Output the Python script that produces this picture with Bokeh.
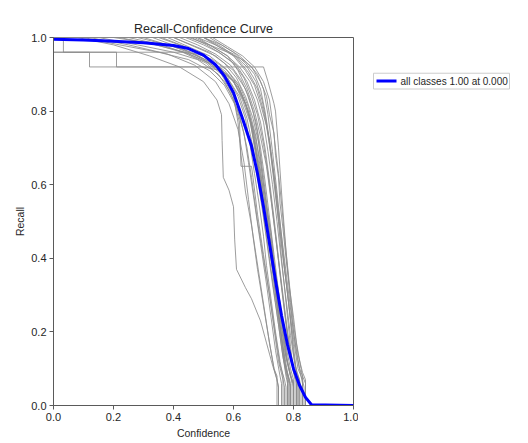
from bokeh.plotting import figure
from bokeh.layouts import row
from bokeh.models import Range1d, FixedTicker
from bokeh.core.properties import value
from bokeh.embed import file_html
from bokeh.resources import INLINE

# ---- data ----
mean_conf = [0, 0.1, 0.2, 0.3, 0.4, 0.45, 0.5, 0.54, 0.57, 0.60, 0.63, 0.66, 0.68, 0.70, 0.72,
             0.74, 0.76, 0.78, 0.80, 0.82, 0.84, 0.86, 1.0]
mean_recall = [0.995, 0.993, 0.99, 0.986, 0.978, 0.97, 0.952, 0.926, 0.895, 0.85, 0.78, 0.705,
               0.63, 0.54, 0.44, 0.34, 0.245, 0.165, 0.10, 0.055, 0.022, 0.002, 0.0]

cls01_conf = [0, 0.08, 0.2, 0.32, 0.42, 0.5, 0.545, 0.56, 0.562, 0.566, 0.585, 0.60, 0.604, 0.61, 0.64, 0.66, 0.69, 0.71, 0.73, 0.745, 0.75, 0.75, 1]
cls01_recall = [1, 1, 0.98, 0.95, 0.92, 0.88, 0.83, 0.79, 0.72, 0.62, 0.585, 0.54, 0.45, 0.37, 0.32, 0.29, 0.23, 0.17, 0.11, 0.07, 0.05, 0, 0]
cls02_conf = [0, 0, 0.12, 0.12, 0.70, 0.715, 0.735, 0.74, 0.75, 0.76, 0.775, 0.79, 0.80, 0.82, 0.84, 0.84, 1]
cls02_recall = [1, 0.96, 0.96, 0.92, 0.92, 0.88, 0.82, 0.80, 0.70, 0.58, 0.42, 0.28, 0.20, 0.10, 0.06, 0, 0]
cls03_conf = [0, 0.033, 0.033, 0.21, 0.21, 0.50, 0.56, 0.60, 0.63, 0.655, 0.67, 0.69, 0.70, 0.72, 0.74, 0.76, 0.775, 0.78, 0.78, 1]
cls03_recall = [1, 1, 0.96, 0.96, 0.92, 0.92, 0.91, 0.88, 0.84, 0.78, 0.70, 0.60, 0.52, 0.40, 0.28, 0.16, 0.08, 0.06, 0, 0]
cls04_conf = [0, 0.43, 0.48, 0.53, 0.58, 0.62, 0.65, 0.675, 0.69, 0.71, 0.73, 0.75, 0.77, 0.79, 0.80, 0.80, 1]
cls04_recall = [0.96, 0.96, 0.955, 0.94, 0.91, 0.87, 0.81, 0.73, 0.64, 0.52, 0.40, 0.27, 0.15, 0.08, 0.06, 0, 0]
cls05_conf = [0, 0.10, 0.22, 0.35, 0.45, 0.52, 0.57, 0.61, 0.635, 0.65, 0.67, 0.69, 0.71, 0.725, 0.74, 0.755, 0.76, 0.76, 1]
cls05_recall = [1, 1, 0.98, 0.96, 0.94, 0.91, 0.87, 0.81, 0.74, 0.66, 0.55, 0.44, 0.33, 0.24, 0.15, 0.08, 0.06, 0, 0]
cls06_conf = [0, 0.15, 0.28, 0.40, 0.48, 0.55, 0.59, 0.62, 0.645, 0.66, 0.68, 0.70, 0.72, 0.735, 0.75, 0.765, 0.77, 0.77, 1]
cls06_recall = [1, 1, 0.98, 0.96, 0.94, 0.90, 0.85, 0.79, 0.70, 0.62, 0.50, 0.40, 0.30, 0.21, 0.12, 0.07, 0.05, 0, 0]
cls07_conf = [0, 0.20, 0.32, 0.43, 0.51, 0.57, 0.60, 0.62, 0.625, 0.66, 0.665, 0.68, 0.70, 0.72, 0.74, 0.755, 0.77, 0.775, 0.775, 1]
cls07_recall = [1, 1, 0.985, 0.96, 0.93, 0.88, 0.83, 0.77, 0.65, 0.65, 0.62, 0.52, 0.41, 0.30, 0.19, 0.11, 0.07, 0.05, 0, 0]
cls08_conf = [0, 0.28, 0.38, 0.46, 0.53, 0.58, 0.62, 0.645, 0.665, 0.68, 0.70, 0.715, 0.73, 0.75, 0.765, 0.78, 0.785, 0.785, 1]
cls08_recall = [1, 1, 0.98, 0.96, 0.93, 0.89, 0.84, 0.78, 0.70, 0.62, 0.51, 0.42, 0.33, 0.22, 0.13, 0.08, 0.06, 0, 0]
cls09_conf = [0, 0.35, 0.42, 0.49, 0.55, 0.60, 0.63, 0.655, 0.675, 0.69, 0.71, 0.725, 0.74, 0.755, 0.77, 0.785, 0.79, 0.79, 1]
cls09_recall = [1, 1, 0.98, 0.955, 0.92, 0.88, 0.83, 0.77, 0.69, 0.61, 0.50, 0.40, 0.30, 0.21, 0.12, 0.07, 0.05, 0, 0]
cls10_conf = [0, 0.40, 0.46, 0.52, 0.57, 0.61, 0.64, 0.665, 0.685, 0.70, 0.715, 0.73, 0.745, 0.76, 0.775, 0.79, 0.795, 0.795, 1]
cls10_recall = [1, 1, 0.98, 0.96, 0.93, 0.89, 0.84, 0.78, 0.71, 0.62, 0.52, 0.42, 0.32, 0.22, 0.13, 0.08, 0.06, 0, 0]
cls11_conf = [0, 0.42, 0.48, 0.54, 0.59, 0.625, 0.65, 0.675, 0.69, 0.705, 0.72, 0.735, 0.75, 0.765, 0.78, 0.795, 0.80, 0.80, 1]
cls11_recall = [1, 1, 0.98, 0.955, 0.925, 0.885, 0.84, 0.77, 0.70, 0.61, 0.51, 0.41, 0.31, 0.21, 0.12, 0.07, 0.05, 0, 0]
cls12_conf = [0, 0.44, 0.50, 0.55, 0.60, 0.635, 0.66, 0.68, 0.70, 0.715, 0.73, 0.745, 0.76, 0.775, 0.79, 0.805, 0.81, 0.81, 1]
cls12_recall = [1, 1, 0.98, 0.96, 0.93, 0.89, 0.84, 0.79, 0.71, 0.63, 0.53, 0.43, 0.32, 0.22, 0.13, 0.08, 0.06, 0, 0]
cls13_conf = [0, 0.46, 0.51, 0.56, 0.61, 0.645, 0.67, 0.69, 0.705, 0.72, 0.735, 0.75, 0.765, 0.78, 0.795, 0.81, 0.815, 0.815, 1]
cls13_recall = [1, 1, 0.98, 0.955, 0.925, 0.88, 0.83, 0.77, 0.70, 0.61, 0.51, 0.40, 0.30, 0.20, 0.12, 0.07, 0.05, 0, 0]
cls14_conf = [0, 0.48, 0.53, 0.58, 0.62, 0.655, 0.68, 0.70, 0.715, 0.73, 0.745, 0.76, 0.775, 0.79, 0.805, 0.82, 0.825, 0.825, 1]
cls14_recall = [1, 1, 0.975, 0.95, 0.92, 0.88, 0.83, 0.77, 0.69, 0.60, 0.50, 0.39, 0.29, 0.19, 0.11, 0.07, 0.05, 0, 0]
cls15_conf = [0, 0.50, 0.55, 0.60, 0.64, 0.67, 0.69, 0.71, 0.725, 0.74, 0.755, 0.77, 0.785, 0.80, 0.815, 0.83, 0.835, 0.835, 1]
cls15_recall = [1, 1, 0.975, 0.95, 0.91, 0.87, 0.82, 0.76, 0.68, 0.59, 0.48, 0.37, 0.27, 0.18, 0.10, 0.07, 0.05, 0, 0]
cls16_conf = [0, 0.52, 0.56, 0.60, 0.64, 0.67, 0.69, 0.705, 0.72, 0.735, 0.75, 0.76, 0.775, 0.79, 0.80, 0.805, 0.805, 1]
cls16_recall = [1, 1, 0.98, 0.96, 0.93, 0.90, 0.86, 0.80, 0.72, 0.62, 0.50, 0.40, 0.28, 0.16, 0.09, 0.07, 0, 0]
cls17_conf = [0, 0.25, 0.36, 0.45, 0.52, 0.58, 0.62, 0.65, 0.67, 0.69, 0.71, 0.73, 0.745, 0.76, 0.775, 0.785, 0.785, 1]
cls17_recall = [1, 1, 0.98, 0.955, 0.93, 0.90, 0.86, 0.80, 0.73, 0.63, 0.52, 0.40, 0.29, 0.19, 0.10, 0.07, 0, 0]
cls18_conf = [0, 0.30, 0.40, 0.48, 0.55, 0.60, 0.64, 0.665, 0.68, 0.695, 0.715, 0.735, 0.75, 0.765, 0.78, 0.79, 0.79, 1]
cls18_recall = [1, 1, 0.975, 0.95, 0.92, 0.88, 0.82, 0.75, 0.66, 0.57, 0.46, 0.35, 0.25, 0.16, 0.09, 0.06, 0, 0]
cls19_conf = [0, 0.45, 0.52, 0.58, 0.63, 0.66, 0.68, 0.70, 0.715, 0.73, 0.745, 0.76, 0.775, 0.79, 0.80, 0.81, 0.82, 0.82, 1]
cls19_recall = [1, 1, 0.98, 0.96, 0.94, 0.92, 0.90, 0.86, 0.79, 0.69, 0.58, 0.46, 0.34, 0.23, 0.14, 0.09, 0.07, 0, 0]
cls20_conf = [0, 0.12, 0.25, 0.38, 0.47, 0.54, 0.585, 0.615, 0.635, 0.65, 0.665, 0.68, 0.70, 0.72, 0.735, 0.745, 0.745, 1]
cls20_recall = [1, 1, 0.98, 0.955, 0.925, 0.88, 0.82, 0.75, 0.66, 0.56, 0.46, 0.37, 0.27, 0.17, 0.10, 0.08, 0, 0]
cls21_conf = [0, 0.38, 0.45, 0.52, 0.575, 0.615, 0.645, 0.67, 0.69, 0.705, 0.72, 0.74, 0.76, 0.775, 0.79, 0.80, 0.80, 1]
cls21_recall = [1, 1, 0.975, 0.95, 0.915, 0.87, 0.81, 0.74, 0.66, 0.57, 0.47, 0.35, 0.24, 0.14, 0.08, 0.06, 0, 0]
cls22_conf = [0, 0.47, 0.53, 0.58, 0.615, 0.645, 0.67, 0.69, 0.71, 0.725, 0.74, 0.755, 0.77, 0.785, 0.80, 0.815, 0.815, 1]
cls22_recall = [1, 1, 0.975, 0.95, 0.91, 0.86, 0.80, 0.73, 0.65, 0.56, 0.46, 0.36, 0.26, 0.16, 0.09, 0.07, 0, 0]
cls23_conf = [0, 0.50, 0.56, 0.61, 0.65, 0.68, 0.70, 0.72, 0.735, 0.75, 0.765, 0.78, 0.795, 0.81, 0.825, 0.83, 0.83, 1]
cls23_recall = [1, 1, 0.975, 0.945, 0.905, 0.86, 0.80, 0.72, 0.63, 0.53, 0.43, 0.33, 0.23, 0.14, 0.08, 0.06, 0, 0]
cls24_conf = [0, 0.33, 0.43, 0.50, 0.56, 0.60, 0.615, 0.625, 0.64, 0.66, 0.675, 0.69, 0.705, 0.72, 0.735, 0.745, 0.75, 0.75, 1]
cls24_recall = [1, 1, 0.97, 0.94, 0.90, 0.84, 0.77, 0.68, 0.58, 0.49, 0.41, 0.33, 0.25, 0.17, 0.10, 0.07, 0.05, 0, 0]
cls25_conf = [0, 0.50, 0.56, 0.62, 0.66, 0.69, 0.71, 0.72, 0.735, 0.74, 0.75, 0.755, 0.765, 0.775, 0.785, 0.80, 0.81, 0.825, 0.83, 0.83, 1]
cls25_recall = [1, 1, 0.98, 0.95, 0.92, 0.88, 0.84, 0.79, 0.74, 0.68, 0.62, 0.55, 0.48, 0.40, 0.33, 0.24, 0.17, 0.10, 0.08, 0, 0]
cls26_conf = [0, 0.53, 0.58, 0.63, 0.67, 0.70, 0.72, 0.73, 0.74, 0.75, 0.76, 0.77, 0.78, 0.79, 0.80, 0.815, 0.83, 0.84, 0.84, 1]
cls26_recall = [1, 1, 0.975, 0.95, 0.92, 0.88, 0.83, 0.77, 0.70, 0.63, 0.55, 0.46, 0.38, 0.30, 0.22, 0.14, 0.09, 0.07, 0, 0]
cls27_conf = [0, 0.40, 0.47, 0.54, 0.60, 0.64, 0.665, 0.68, 0.69, 0.70, 0.712, 0.725, 0.735, 0.75, 0.76, 0.775, 0.79, 0.80, 0.80, 1]
cls27_recall = [1, 1, 0.975, 0.95, 0.91, 0.86, 0.80, 0.74, 0.67, 0.60, 0.53, 0.47, 0.39, 0.31, 0.24, 0.16, 0.10, 0.07, 0, 0]
cls28_conf = [0, 0.22, 0.34, 0.44, 0.52, 0.58, 0.615, 0.64, 0.655, 0.67, 0.685, 0.70, 0.71, 0.725, 0.74, 0.755, 0.765, 0.765, 1]
cls28_recall = [1, 1, 0.98, 0.96, 0.93, 0.89, 0.84, 0.78, 0.71, 0.63, 0.55, 0.46, 0.38, 0.29, 0.20, 0.12, 0.08, 0, 0]
cls29_conf = [0, 0.48, 0.54, 0.60, 0.645, 0.675, 0.695, 0.71, 0.72, 0.73, 0.74, 0.752, 0.765, 0.78, 0.79, 0.80, 0.81, 0.81, 1]
cls29_recall = [1, 1, 0.98, 0.955, 0.92, 0.88, 0.83, 0.77, 0.71, 0.64, 0.57, 0.49, 0.40, 0.31, 0.23, 0.16, 0.09, 0, 0]
cls30_conf = [0, 0.36, 0.44, 0.51, 0.57, 0.615, 0.64, 0.66, 0.675, 0.69, 0.70, 0.715, 0.73, 0.745, 0.76, 0.77, 0.78, 0.78, 1]
cls30_recall = [1, 1, 0.975, 0.945, 0.91, 0.87, 0.82, 0.76, 0.69, 0.62, 0.55, 0.46, 0.37, 0.27, 0.18, 0.11, 0.07, 0, 0]

class_curves = [
    (cls01_conf, cls01_recall), (cls02_conf, cls02_recall), (cls03_conf, cls03_recall),
    (cls04_conf, cls04_recall), (cls05_conf, cls05_recall), (cls06_conf, cls06_recall),
    (cls07_conf, cls07_recall), (cls08_conf, cls08_recall), (cls09_conf, cls09_recall),
    (cls10_conf, cls10_recall), (cls11_conf, cls11_recall), (cls12_conf, cls12_recall),
    (cls13_conf, cls13_recall), (cls14_conf, cls14_recall), (cls15_conf, cls15_recall),
    (cls16_conf, cls16_recall), (cls17_conf, cls17_recall), (cls18_conf, cls18_recall),
    (cls19_conf, cls19_recall), (cls20_conf, cls20_recall), (cls21_conf, cls21_recall),
    (cls22_conf, cls22_recall), (cls23_conf, cls23_recall), (cls24_conf, cls24_recall),
    (cls25_conf, cls25_recall), (cls26_conf, cls26_recall), (cls27_conf, cls27_recall),
    (cls28_conf, cls28_recall), (cls29_conf, cls29_recall), (cls30_conf, cls30_recall),
]

tick_values = [0.0, 0.2, 0.4, 0.6, 0.8, 1.0]
tick_labels = ["0.0", "0.2", "0.4", "0.6", "0.8", "1.0"]
legend_label = "all classes 1.00 at 0.000"

FONT = "Liberation Sans"
TXT = "#262626"

p = figure(width=358, height=443, output_backend="svg", toolbar_location=None,
           x_range=Range1d(0, 1), y_range=Range1d(0, 1),
           min_border_left=53, min_border_right=5, min_border_top=37, min_border_bottom=38)
p.background_fill_color = "white"
p.border_fill_color = "white"
p.grid.visible = False
p.outline_line_color = "#5a5a5a"
p.outline_line_width = 1

for xs, ys in class_curves:
    p.line(xs, ys, line_color="#8c8c8c", line_width=1, line_alpha=0.85)

p.line(mean_conf, mean_recall, line_color="#0000ff", line_width=3)

for ax in (p.xaxis[0], p.yaxis[0]):
    ax.ticker = FixedTicker(ticks=tick_values)
    ax.major_label_overrides = {v: s for v, s in zip(tick_values, tick_labels)}
    ax.major_label_text_font = FONT
    ax.major_label_text_font_size = "11px"
    ax.major_label_text_color = TXT
    ax.axis_label_text_font = FONT
    ax.axis_label_text_font_size = "10.5px"
    ax.axis_label_text_font_style = "normal"
    ax.axis_label_text_color = TXT
    ax.axis_line_color = "#5a5a5a"
    ax.major_tick_line_color = "#5a5a5a"
    ax.major_tick_out = 4
    ax.major_tick_in = 0
    ax.minor_tick_line_color = None
    ax.major_label_standoff = 3

p.xaxis[0].axis_label = "Confidence"
p.yaxis[0].axis_label = "Recall"
p.xaxis[0].axis_label_standoff = 3
p.yaxis[0].axis_label_standoff = 2

p.title.text = "Recall-Confidence Curve"
p.title.align = "center"
p.title.text_font = FONT
p.title.text_font_size = "12.5px"
p.title.text_font_style = "normal"
p.title.text_color = TXT
p.title.standoff = 3

# ---- legend area to the right of the axes box (px units from its bottom-left) ----
LW, LH = 170, 443
leg_fig = figure(width=LW, height=LH, output_backend="svg", toolbar_location=None,
                 x_range=Range1d(0, LW), y_range=Range1d(0, LH),
                 x_axis_location=None, y_axis_location=None,
                 min_border_left=0, min_border_right=0, min_border_top=0, min_border_bottom=0)
leg_fig.grid.visible = False
leg_fig.outline_line_color = None
leg_fig.background_fill_color = "white"
leg_fig.border_fill_color = "white"

box_left, box_right = 15, 151
box_top, box_bottom = LH - 43, LH - 62
row_y = (box_top + box_bottom) / 2
leg_fig.quad(left=[box_left], right=[box_right], top=[box_top], bottom=[box_bottom],
             fill_color=None, line_color="#cccccc", line_width=1)
leg_fig.line([box_left + 3, box_left + 23], [row_y, row_y], line_color="#0000ff", line_width=3)
leg_fig.text([box_left + 27], [row_y], text=[legend_label], text_baseline="middle",
             text_align="left", text_font=value(FONT), text_font_size="10px", text_color=TXT)

layout = row(p, leg_fig, spacing=0)
open("out.html", "w").write(file_html(layout, INLINE))
